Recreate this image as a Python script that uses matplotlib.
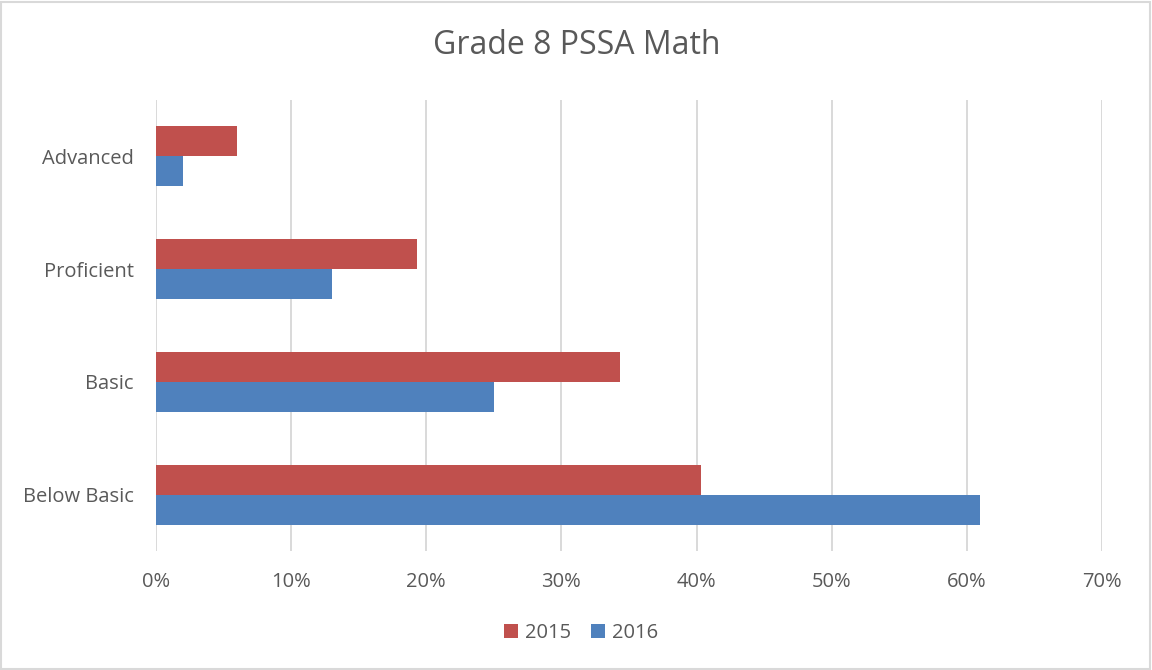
import numpy as np
from matplotlib import pyplot as plt
from matplotlib.patches import Rectangle
from matplotlib.ticker import FuncFormatter

# data__________________________________________________________________________

levels    = ['Below Basic', 'Basic', 'Proficient', 'Advanced']
pct_2015  = [40.3, 34.3, 19.3, 6.0]
pct_2016  = [61.0, 25.0, 13.0, 2.0]
x_ticks   = [0, 10, 20, 30, 40, 50, 60, 70]

# style_________________________________________________________________________

red   = '#C0504D'
blue  = '#4F81BD'
grey  = '#595959'
plt.rcParams['font.family'] = ['Open Sans', 'DejaVu Sans']

# figure________________________________________________________________________

fig = plt.figure(figsize=(11.52, 6.70), dpi=100)
ax  = fig.add_axes([156/1152, 1-551/670, 946/1152, 451/670])

# figure border
fig.patches.append(Rectangle((0.001, 0.002), 0.997, 0.995, transform=fig.transFigure,
                             fill=False, edgecolor='#D9D9D9', lw=1.5))

pos = np.arange(len(levels))
h   = 0.266
ax.barh(pos + h/2, pct_2015, height=h, color=red,  label='2015', zorder=2)
ax.barh(pos - h/2, pct_2016, height=h, color=blue, label='2016', zorder=2)

# axes__________________________________________________________________________

ax.set_xlim(0, 70)
ax.set_ylim(-0.5, len(levels) - 0.5)
ax.set_xticks(x_ticks)
ax.xaxis.set_major_formatter(FuncFormatter(lambda v, p: '%d%%' % v))
ax.set_yticks(pos)
ax.set_yticklabels(levels)

ax.grid(axis='x', color='#D9D9D9', lw=1.4, zorder=0)
for s in ax.spines.values():
    s.set_visible(False)
ax.tick_params(length=0, labelsize=14.5, colors=grey)
ax.tick_params(axis='x', pad=15)
ax.tick_params(axis='y', pad=16)

fig.text(577/1152, 1-45/670, 'Grade 8 PSSA Math', ha='center', va='center',
         fontsize=23, color=grey)

leg = fig.legend(loc='center', bbox_to_anchor=(581/1152, 1-633/670), ncol=2,
                 frameon=False, fontsize=14.5, handlelength=0.7, handleheight=0.7,
                 handletextpad=0.35, columnspacing=1.0)
for t in leg.get_texts():
    t.set_color(grey)

fig.savefig('out.png', dpi=100)
